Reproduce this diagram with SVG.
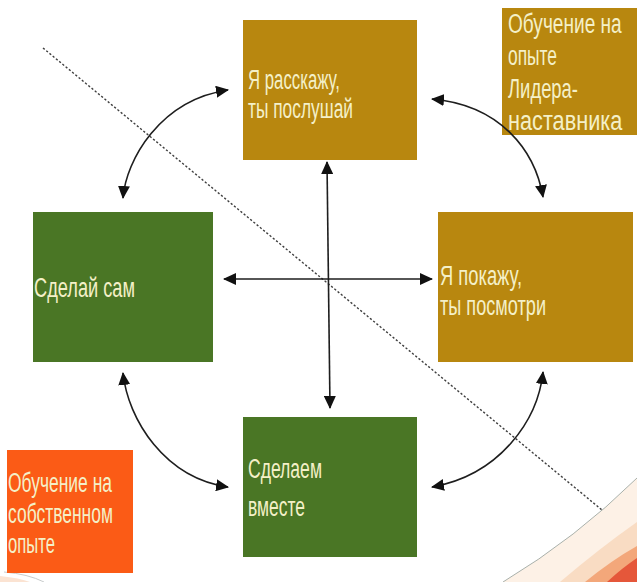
<svg xmlns="http://www.w3.org/2000/svg" width="637" height="582" viewBox="0 0 637 582">
  <style>
    .gold { fill: #B8870F; }
    .green { fill: #4A7625; }
    .orange { fill: #FB5B16; }
    .lbl { font-family: "Liberation Sans", Arial, sans-serif; font-size: 28px; fill: #F4F0C8; }
    .conn { fill: none; stroke: #1E1E1E; stroke-width: 1.6; }
    .dash { fill: none; stroke: #3F3F3F; stroke-width: 1.4; stroke-dasharray: 2.2 2; }
  </style>
  <defs>
    <marker id="ah" markerUnits="userSpaceOnUse" markerWidth="13" markerHeight="12" refX="12" refY="6" orient="auto-start-reverse">
      <path d="M0,0 L13,6 L0,12 Z" fill="#111"/>
    </marker>
  </defs>

  <rect width="637" height="582" fill="#FFFFFF"/>

  <g id="decoration">
    <path d="M503,582 A720,720 0 0 0 637,478 L637,582 Z" fill="#FDF1E6"/>
    <path d="M560,582 Q600,548 637,522 L637,582 Z" fill="#F9DCC3"/>
    <path d="M585,582 Q612,560 637,546 L637,582 Z" fill="#F3A77A"/>
    <path d="M607,582 Q622,568 637,558 L637,582 Z" fill="#E5573A"/>
    <path d="M503,582 A720,720 0 0 0 637,478" fill="none" stroke="#A9B0AA" stroke-width="1"/>
    <path d="M0,576 Q20,578 30,582 L0,582 Z" fill="#FBE3D2"/>
    <path d="M4,572 Q28,574 44,582" fill="none" stroke="#C9CCCC" stroke-width="1"/>
  </g>

  <g id="divider">
    <line class="dash" x1="43" y1="48" x2="602" y2="510"/>
  </g>

  <g id="node-tell">
    <rect class="gold" x="243" y="20" width="174" height="140"/>
    <text class="lbl" transform="translate(248,89) scale(0.65,1)" textLength="141.5" lengthAdjust="spacingAndGlyphs">Я расскажу,</text>
    <text class="lbl" transform="translate(248,118) scale(0.65,1)" textLength="161.5" lengthAdjust="spacingAndGlyphs">ты послушай</text>
  </g>

  <g id="node-mentor">
    <rect class="gold" x="502" y="8" width="135" height="127"/>
    <text class="lbl" transform="translate(508,33) scale(0.65,1)" textLength="175" lengthAdjust="spacingAndGlyphs">Обучение на</text>
    <text class="lbl" transform="translate(508,65) scale(0.65,1)" textLength="75.4" lengthAdjust="spacingAndGlyphs">опыте</text>
    <text class="lbl" transform="translate(508,98) scale(0.65,1)" textLength="107.7" lengthAdjust="spacingAndGlyphs">Лидера-</text>
    <text class="lbl" transform="translate(508,130) scale(0.65,1)" textLength="176" lengthAdjust="spacingAndGlyphs">наставника</text>
  </g>

  <g id="node-self">
    <rect class="green" x="33" y="212" width="180" height="150"/>
    <text class="lbl" transform="translate(34,297) scale(0.65,1)" textLength="155.4" lengthAdjust="spacingAndGlyphs">Сделай сам</text>
  </g>

  <g id="node-show">
    <rect class="gold" x="438" y="212" width="195" height="150"/>
    <text class="lbl" transform="translate(440,285) scale(0.65,1)" textLength="126.2" lengthAdjust="spacingAndGlyphs">Я покажу,</text>
    <text class="lbl" transform="translate(440,315) scale(0.65,1)" textLength="163.1" lengthAdjust="spacingAndGlyphs">ты посмотри</text>
  </g>

  <g id="node-together">
    <rect class="green" x="243" y="417" width="174" height="140"/>
    <text class="lbl" transform="translate(248,478) scale(0.65,1)" textLength="113.8" lengthAdjust="spacingAndGlyphs">Сделаем</text>
    <text class="lbl" transform="translate(248,516) scale(0.65,1)" textLength="87.7" lengthAdjust="spacingAndGlyphs">вместе</text>
  </g>

  <g id="node-own">
    <rect class="orange" x="7" y="450" width="126" height="123"/>
    <text class="lbl" transform="translate(8,492) scale(0.65,1)" textLength="160" lengthAdjust="spacingAndGlyphs">Обучение на</text>
    <text class="lbl" transform="translate(8,523) scale(0.65,1)" textLength="161.5" lengthAdjust="spacingAndGlyphs">собственном</text>
    <text class="lbl" transform="translate(8,553) scale(0.65,1)" textLength="72.3" lengthAdjust="spacingAndGlyphs">опыте</text>
  </g>

  <g id="connectors">
    <path class="conn" d="M327,162 L330,408" marker-start="url(#ah)" marker-end="url(#ah)"/>
    <path class="conn" d="M224,279 L432,279" marker-start="url(#ah)" marker-end="url(#ah)"/>
    <path class="conn" d="M123,198 C126,160 160,100 228,90" marker-start="url(#ah)" marker-end="url(#ah)"/>
    <path class="conn" d="M432,99 C500,105 535,150 543,197" marker-start="url(#ah)" marker-end="url(#ah)"/>
    <path class="conn" d="M543,372 C538,420 500,475 432,487" marker-start="url(#ah)" marker-end="url(#ah)"/>
    <path class="conn" d="M123,373 C128,420 165,478 228,487" marker-start="url(#ah)" marker-end="url(#ah)"/>
  </g>
</svg>
